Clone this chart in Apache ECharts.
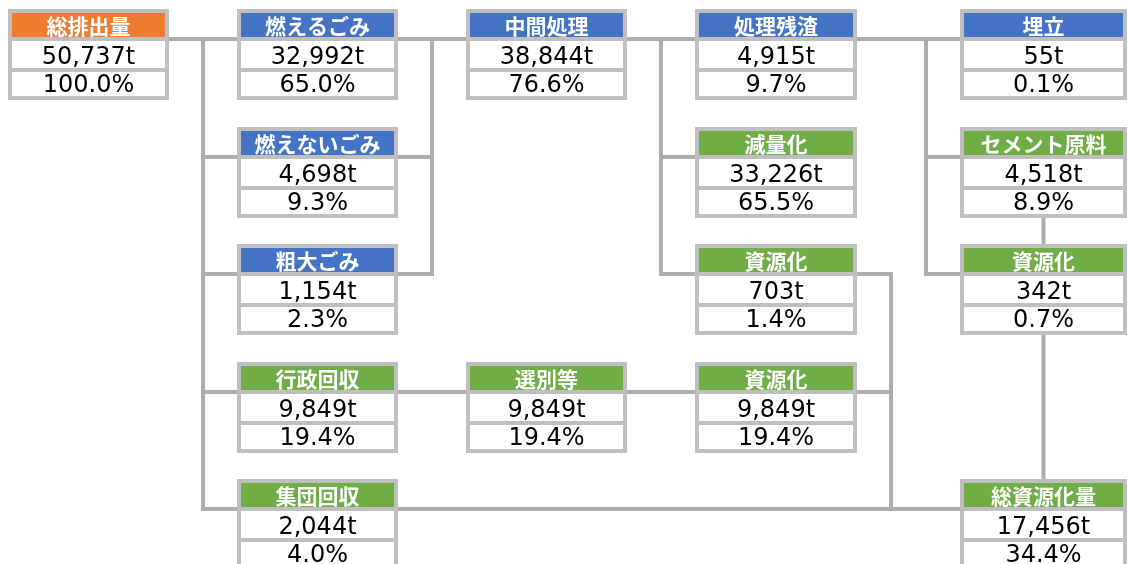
<!DOCTYPE html>
<html>
<head>
<meta charset="utf-8">
<title>ごみ処理フロー</title>
<script src="https://cdn.jsdelivr.net/npm/echarts@6/dist/echarts.min.js"></script>
<style>
  html, body { margin: 0; padding: 0; background: #fff; }
  #chart { width: 1128px; height: 564px; }
</style>
</head>
<body>
<div id="chart"></div>
<script>
// --- data ---
const nodeNames = ['総排出量', '燃えるごみ', '燃えないごみ', '粗大ごみ', '行政回収', '集団回収',
  '中間処理', '選別等', '処理残渣', '減量化', '資源化', '資源化', '埋立', 'セメント原料', '資源化', '総資源化量']
const nodeTonnes = [50737, 32992, 4698, 1154, 9849, 2044, 38844, 9849, 4915, 33226, 703, 9849, 55, 4518, 342, 17456]
const nodePercents = [100.0, 65.0, 9.3, 2.3, 19.4, 4.0, 76.6, 19.4, 9.7, 65.5, 1.4, 19.4, 0.1, 8.9, 0.7, 34.4]
const nodeKinds = ['source', 'process', 'process', 'process', 'recycle', 'recycle', 'process', 'recycle',
  'process', 'recycle', 'recycle', 'recycle', 'process', 'recycle', 'recycle', 'recycle']
const nodeCols = [0, 1, 1, 1, 1, 1, 2, 2, 3, 3, 3, 3, 4, 4, 4, 4]
const nodeRows = [0, 0, 1, 2, 3, 4, 0, 3, 0, 1, 2, 3, 0, 1, 2, 4]

// flows joined through a vertical bus
const busFrom = [[0], [1, 2, 3], [6], [8], [10, 11]]
const busTo = [[1, 2, 3, 4, 5], [6], [8, 9, 10], [12, 13, 14], [15]]
// straight flows, left to right
const directLinks = [[4, 7], [7, 11], [5, 15]]
// straight flows, top to bottom
const verticalLinks = [[13, 14], [14, 15]]

// --- layout ---
const colLeft = [8, 237, 466, 695, 960]
const colWidth = [161, 161, 161, 162, 167]
const rowTop = [9, 127, 244, 362, 479]
const busX = [203, 432, 661, 926, 891]
const boxHeight = 91
const levelOffset = 30
const kindColors = { source: '#ED7D31', process: '#4472C4', recycle: '#70AD47' }

function boxOf(i) {
  const x = colLeft[nodeCols[i]]
  const y = rowTop[nodeRows[i]]
  const w = colWidth[nodeCols[i]]
  return { x: x, y: y, w: w, level: y + levelOffset }
}

// connector segments [x1, y1, x2, y2]
const segments = []
busFrom.forEach(function(froms, g) {
  const bx = busX[g]
  const levels = []
  froms.forEach(function(i) {
    const b = boxOf(i)
    segments.push([b.x + b.w, b.level, bx, b.level])
    levels.push(b.level)
  })
  busTo[g].forEach(function(i) {
    const b = boxOf(i)
    segments.push([bx, b.level, b.x, b.level])
    levels.push(b.level)
  })
  segments.push([bx, Math.min.apply(null, levels), bx, Math.max.apply(null, levels)])
})
directLinks.forEach(function(l) {
  const a = boxOf(l[0])
  const b = boxOf(l[1])
  segments.push([a.x + a.w, a.level, b.x, a.level])
})
verticalLinks.forEach(function(l) {
  const a = boxOf(l[0])
  const b = boxOf(l[1])
  const cx = a.x + a.w / 2
  segments.push([cx, a.y + boxHeight, cx, b.y])
})

const valueFont = { fontSize: 24, fontFamily: 'DejaVu Sans', fill: '#000' }

const chart = echarts.init(document.getElementById('chart'))
const option = {
  animation: false,
  grid: { left: 0, right: 0, top: 0, bottom: 0 },
  xAxis: { type: 'value', min: 0, max: 1128, show: false },
  yAxis: { type: 'value', min: 0, max: 564, inverse: true, show: false },
  series: [
    {
      type: 'custom',
      silent: true,
      clip: false,
      data: segments,
      renderItem: function(params, api) {
        const p1 = api.coord([api.value(0), api.value(1)])
        const p2 = api.coord([api.value(2), api.value(3)])
        return {
          type: 'line',
          shape: { x1: p1[0], y1: p1[1], x2: p2[0], y2: p2[1] },
          style: { stroke: '#adadad', lineWidth: 4, lineCap: 'square' }
        }
      }
    },
    {
      type: 'custom',
      silent: true,
      clip: false,
      z: 3,
      data: nodeNames.map(function(n, i) { return [i] }),
      renderItem: function(params, api) {
        const i = api.value(0)
        const b = boxOf(i)
        const p = api.coord([b.x, b.y])
        const x = p[0]
        const y = p[1]
        const w = b.w
        const cx = x + w / 2
        return {
          type: 'group',
          children: [
            { type: 'rect', shape: { x: x, y: y, width: w, height: boxHeight }, style: { fill: '#bfbfbf' }},
            { type: 'rect', shape: { x: x + 4, y: y + 4, width: w - 8, height: 24 }, style: { fill: kindColors[nodeKinds[i]] }},
            { type: 'rect', shape: { x: x + 4, y: y + 32, width: w - 8, height: 27 }, style: { fill: '#fff' }},
            { type: 'rect', shape: { x: x + 4, y: y + 63, width: w - 8, height: 24 }, style: { fill: '#fff' }},
            {
              type: 'text',
              style: {
                x: cx, y: y + 17, text: nodeNames[i], align: 'center', verticalAlign: 'middle',
                fill: '#fff', fontSize: 21, fontWeight: 'bold', fontFamily: 'Noto Sans CJK JP'
              }
            },
            {
              type: 'text',
              style: Object.assign({
                x: cx, y: y + 49, text: nodeTonnes[i].toLocaleString('en-US') + 't', align: 'center', verticalAlign: 'middle'
              }, valueFont)
            },
            {
              type: 'text',
              style: Object.assign({
                x: cx, y: y + 77, text: nodePercents[i].toFixed(1) + '%', align: 'center', verticalAlign: 'middle'
              }, valueFont)
            }
          ]
        }
      }
    }
  ]
}
chart.setOption(option, true)
</script>
</body>
</html>
